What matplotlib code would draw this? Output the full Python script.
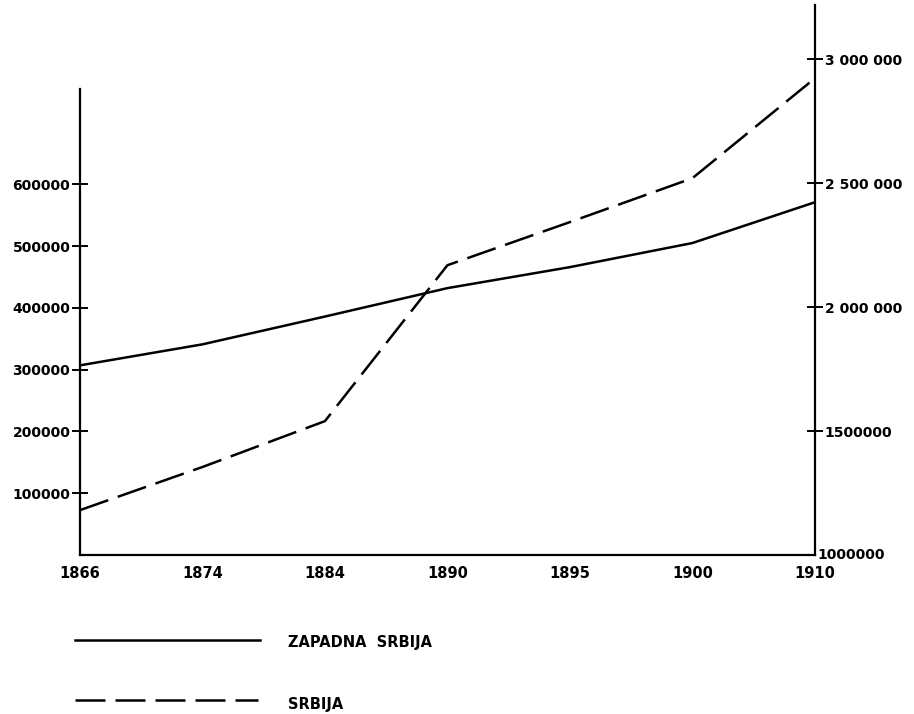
import numpy as np
import matplotlib
matplotlib.use("Agg")
import matplotlib.pyplot as plt
from matplotlib.lines import Line2D

# values
years = ["1866", "1874", "1884", "1890", "1895", "1900", "1910"]
zapadna = [307000, 341000, 386000, 432000, 466000, 505000, 571000]
srbija = [1181000, 1355000, 1540000, 2169000, 2343000, 2520000, 2923000]

left_ticks = [100000, 200000, 300000, 400000, 500000, 600000]
left_labels = ["100000", "200000", "300000", "400000", "500000", "600000"]
right_ticks = [1500000, 2000000, 2500000, 3000000]
right_labels = ["1500000", "2 000 000", "2 500 000", "3 000 000"]

plt.rcParams["font.family"] = "DejaVu Sans"
plt.rcParams["font.weight"] = "bold"

fig = plt.figure(figsize=(9.14, 7.14), dpi=100)
ax = fig.add_axes([0.0875, 0.2227, 0.804, 0.770])
ax2 = ax.twinx()

x = np.arange(len(years))
ax.plot(x, zapadna, color="black", lw=1.8, solid_capstyle="butt")
ax2.plot(x, srbija, color="black", lw=1.8, dashes=(12, 4))

ax.set_xlim(0, 6)
ax.set_ylim(0, 890000)
ax2.set_ylim(1000000, 3218000)

for a in (ax, ax2):
    a.spines["top"].set_visible(False)
    for s in a.spines.values():
        s.set_linewidth(1.6)
ax.spines["right"].set_visible(False)
ax2.spines["left"].set_visible(False)
ax2.spines["bottom"].set_visible(False)
ax.spines["left"].set_bounds(0, 755000)

ax.set_yticks(left_ticks)
ax.set_yticklabels(left_labels)
ax.tick_params(axis="y", direction="inout", length=12, width=1.4, labelsize=10, pad=1)
ax2.set_yticks(right_ticks)
ax2.set_yticklabels(right_labels)
ax2.tick_params(axis="y", direction="inout", length=12, width=1.4, labelsize=10, pad=1)

ax.set_xticks(x)
ax.set_xticklabels(years)
ax.tick_params(axis="x", length=0, labelsize=10.5, pad=8)

# bottom label of the right axis sits beside the corner
ax2.text(1.003, 0.0, "1000000", transform=ax2.transAxes, ha="left", va="center",
         fontsize=10, fontweight="bold")

# legend drawn below the chart
fig.add_artist(Line2D([75 / 914, 260 / 914], [1 - 640 / 714, 1 - 640 / 714],
                      color="black", lw=1.8))
fig.text(288 / 914, 1 - 642 / 714, "ZAPADNA  SRBIJA", fontsize=10.5,
         fontweight="bold", va="center")
fig.add_artist(Line2D([75 / 914, 258 / 914], [1 - 700 / 714, 1 - 700 / 714],
                      color="black", lw=1.8, dashes=(12, 4)))
fig.text(288 / 914, 1 - 704 / 714, "SRBIJA", fontsize=10.5,
         fontweight="bold", va="center")

fig.savefig("out.png", dpi=100)
